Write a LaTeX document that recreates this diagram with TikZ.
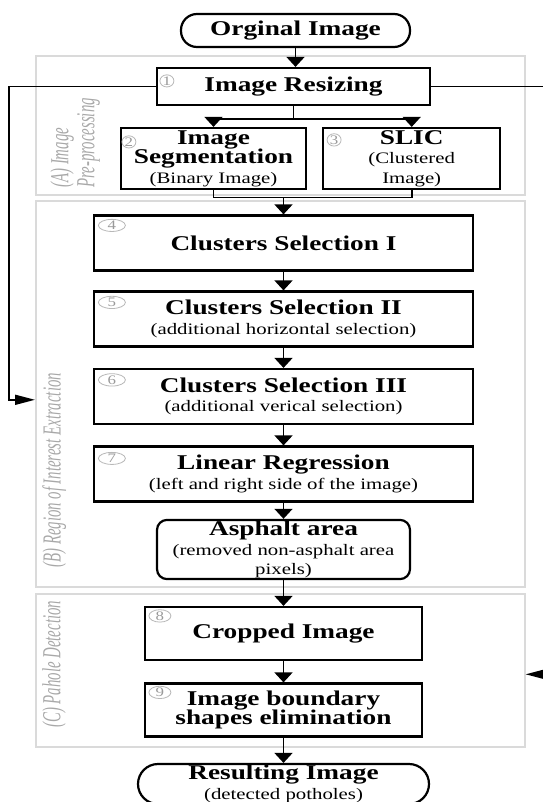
\documentclass[tikz,border=0pt]{standalone}
\usepackage{fontspec}
\setmainfont{Liberation Serif}[FakeStretch=1.3]
\newfontfamily\regfont{Liberation Serif}[FakeStretch=0.57]
\usepackage{tikz}
\usetikzlibrary{positioning,arrows.meta,shapes.geometric,calc}
\definecolor{regionc}{HTML}{DADADA}
\definecolor{labelc}{HTML}{A8A8A8}
\definecolor{markc}{HTML}{9A9A9A}
\newcommand{\boxtitle}{\fontsize{10.5}{9.8}\selectfont\bfseries}
\newcommand{\boxsub}{\fontsize{8}{8.5}\selectfont\mdseries}
\tikzset{
  box/.style={draw, line width=1.1pt, align=center, inner sep=0.5pt, font=\boxtitle, fill=white},
  stepbox/.style={box, minimum width=189.5pt, minimum height=27.5pt},
  smallbox/.style={box, minimum width=138.5pt, minimum height=26.5pt},
  termbox/.style={box, rounded corners=8pt},
  region/.style={draw=regionc, line width=0.8pt, inner sep=0pt, anchor=north west},
  reglbl/.style={rotate=90, anchor=north west, align=left, inner sep=0pt, text=labelc,
                 font=\regfont\itshape\fontsize{13}{13}\selectfont},
  numc/.style={ellipse, draw=markc!70, text=markc, inner sep=0pt, minimum height=6pt,
               minimum width=#1, font=\fontsize{6.5}{6.5}\selectfont},
  numc/.default=13pt,
  arr/.style={-{Triangle[length=5pt, width=9pt]}, line width=0.8pt},
  harr/.style={-{Triangle[length=10pt, width=5pt]}, line width=0.8pt},
  conn/.style={line width=0.8pt},
}

\begin{document}
\begin{tikzpicture}[node distance=10pt]
  \useasboundingbox (0,0) rectangle (271pt,-401pt);
  \node[region, minimum width=244.5pt, minimum height=69.5pt] (regA) at (17.5pt,-27.5pt) {};
  \node[region, minimum width=244.5pt, minimum height=193pt] (regB) at (17.5pt,-100pt) {};
  \node[region, minimum width=244.5pt, minimum height=76.5pt] (regC) at (17.5pt,-296.5pt) {};
  \node[reglbl] (lblA) at (25pt,-94pt) {(A) Image\\Pre-processing};
  \node[reglbl] (lblB) at (21pt,-284pt) {(B) Region of Interest Extraction};
  \node[reglbl] (lblC) at (21pt,-364pt) {(C) Pahole Detection};

  \node[termbox, minimum width=114.5pt, minimum height=16.5pt] (orig) at (147.75pt,-15.25pt) {Orginal Image};
  \node[box, minimum width=136.5pt, minimum height=18.5pt] (resize) at (146.75pt,-43.25pt) {Image Resizing};
  \node[box, minimum width=92.5pt, minimum height=30.5pt] (seg) at (106.75pt,-79.25pt)
    {Image\\Segmentation\\{\boxsub (Binary Image)}};
  \node[box, right=7.5pt of seg, minimum width=88.5pt, minimum height=30.5pt] (slic)
    {SLIC\\{\boxsub (Clustered}\\{\boxsub Image)}};
  \node[stepbox] (sel1) at (141.75pt,-121.5pt) {Clusters Selection I};
  \node[stepbox] (sel2) at (141.75pt,-159.5pt) {Clusters Selection II\\{\boxsub (additional horizontal selection)}};
  \node[stepbox] (sel3) at (141.75pt,-198.25pt) {Clusters Selection III\\{\boxsub (additional verical selection)}};
  \node[stepbox] (linreg) at (141.75pt,-237pt) {Linear Regression\\{\boxsub (left and right side of the image)}};
  \node[box, rounded corners=5pt, minimum width=126.5pt, minimum height=27.5pt] (asph) at (141.75pt,-274.75pt)
    {Asphalt area\\{\boxsub (removed non-asphalt area}\\{\boxsub pixels)}};
  \node[smallbox] (crop) at (141.75pt,-316.75pt) {Cropped Image};
  \node[smallbox] (bound) at (141.75pt,-355pt) {Image boundary\\shapes elimination};
  \node[termbox, rounded corners=10pt, minimum width=145.5pt, minimum height=20pt] (result) at (141.75pt,-392pt)
    {Resulting Image\\{\boxsub (detected potholes)}};

  \foreach \b/\n/\w/\dx/\dy in {resize/1/7pt/5.5pt/7pt, seg/2/7pt/4.5pt/7.5pt, slic/3/7pt/6pt/6.5pt,
      sel1/4/13.5pt/9.5pt/5.5pt, sel2/5/13.5pt/9.5pt/6pt, sel3/6/13.5pt/9.5pt/6pt,
      linreg/7/13.5pt/9.5pt/6.5pt, crop/8/11pt/8pt/5pt, bound/9/11pt/8pt/5pt}
    \node[numc=\w] (no\n) at ([xshift=\dx, yshift=-\dy]\b.north west) {\n};

  \draw[arr] (orig.south) -- (orig.south |- resize.north);
  \draw[conn] (resize.south) -- ++(0,-6.5pt) coordinate (split);
  \draw[arr] (split) -| (seg.north);
  \draw[arr] (split) -| (slic.north);
  \coordinate[above=8.5pt of sel1] (merge);
  \draw[conn] (seg.south) |- (merge) -| (slic.south);
  \draw[arr] (merge) -- (sel1);
  \foreach \a/\b in {sel1/sel2, sel2/sel3, sel3/linreg, linreg/asph, asph/crop, crop/bound, bound/result}
    \draw[arr] (\a) -- (\b);
  \draw[harr] (resize.west) -- ++(-73.5pt,0) |- ([yshift=-3pt]regB.west);
  \draw[harr] (resize.east) -- ++(70pt,0) |- ([yshift=-2pt]regC.east);
\end{tikzpicture}
\end{document}
